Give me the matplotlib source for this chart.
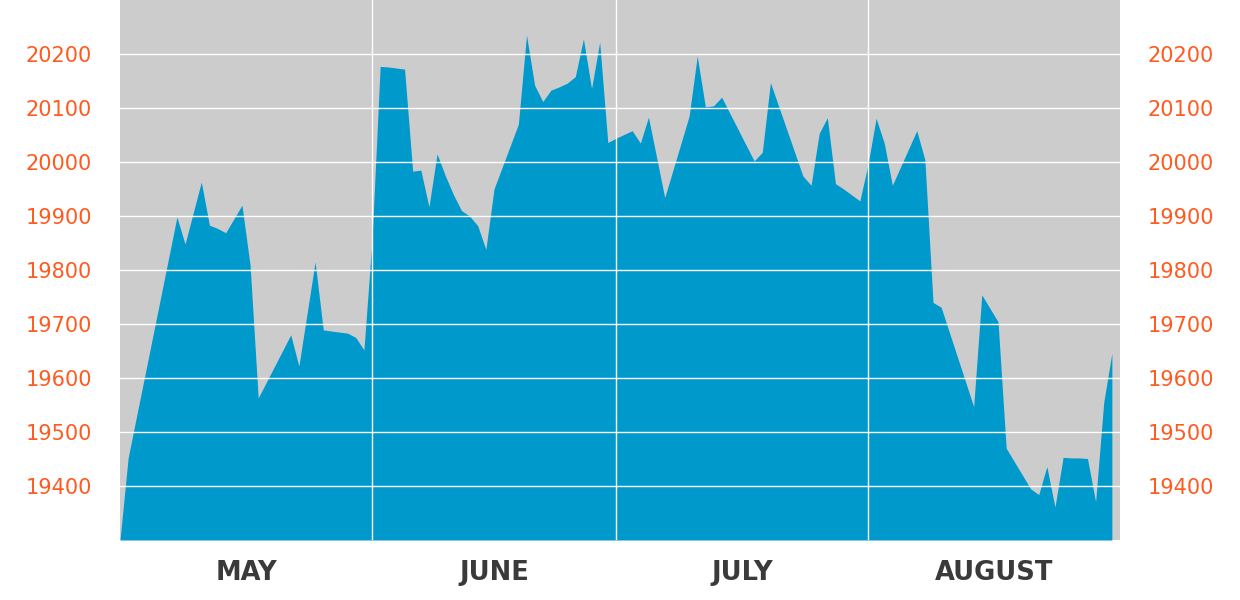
import numpy as np
import pandas as pd
import matplotlib
matplotlib.use("Agg")
import matplotlib.pyplot as plt
import matplotlib.dates as mdates
from matplotlib.transforms import blended_transform_factory

# giorni (vertici della curva) e valori
days = ["05-01", "05-02", "05-08", "05-09", "05-11", "05-12", "05-13", "05-14",
        "05-16", "05-17", "05-18", "05-22", "05-23", "05-25", "05-26", "05-29",
        "05-30", "05-31", "06-01", "06-02", "06-03", "06-04", "06-05", "06-06",
        "06-07", "06-08", "06-09", "06-10", "06-11", "06-12", "06-13", "06-14",
        "06-15", "06-16", "06-19", "06-20", "06-21", "06-22", "06-23", "06-24",
        "06-25", "06-26", "06-27", "06-28", "06-29", "06-30", "07-01", "07-02",
        "07-03", "07-04", "07-05", "07-07", "07-10", "07-11", "07-12", "07-13",
        "07-14", "07-18", "07-19", "07-20", "07-24", "07-25", "07-26", "07-27",
        "07-28", "07-29", "07-31", "08-01", "08-02", "08-03", "08-04", "08-07",
        "08-08", "08-09", "08-10", "08-14", "08-15", "08-17", "08-18", "08-21",
        "08-22", "08-23", "08-24", "08-25", "08-26", "08-27", "08-28", "08-29",
        "08-30", "08-31"]
values = [19300, 19452, 19898, 19848, 19963, 19883, 19877, 19869,
          19920, 19809, 19563, 19680, 19622, 19815, 19689, 19683,
          19675, 19652, 19855, 20177, 20176, 20174, 20172, 19983,
          19985, 19917, 20015, 19975, 19940, 19910, 19900, 19882,
          19838, 19950, 20070, 20235, 20142, 20112, 20133, 20139,
          20146, 20158, 20228, 20136, 20222, 20036, 20044, 20051,
          20058, 20035, 20083, 19934, 20085, 20196, 20102, 20104,
          20120, 20002, 20018, 20147, 19974, 19957, 20053, 20082,
          19960, 19950, 19928, 19995, 20081, 20035, 19957, 20058,
          20004, 19740, 19731, 19547, 19754, 19704, 19470, 19395,
          19384, 19436, 19361, 19453, 19452, 19452, 19451, 19371,
          19555, 19646]
months = ["MAY", "JUNE", "JULY", "AUGUST"]
month_starts = ["05-01", "06-01", "07-01", "08-01", "09-01"]
yticks = [19400, 19500, 19600, 19700, 19800, 19900, 20000, 20100, 20200]

year = "2023-"
x = pd.to_datetime([year + d for d in days])
edges = pd.to_datetime([year + d for d in month_starts])

fig = plt.figure(figsize=(12.4, 6), dpi=100)
ax = fig.add_axes([120 / 1240, 60 / 600, 1000 / 1240, 540 / 600])
ax.set_facecolor("#cccccc")

ax.fill_between(x, values, 19300, color="#0099cc", linewidth=0, zorder=1)

ax.set_xlim(edges[0], edges[-1])
ax.set_ylim(19300, 20300)

# griglia bianca sopra l'area
for v in yticks:
    ax.axhline(v, color="white", linewidth=1.0, zorder=2)
for e in edges[1:-1]:
    ax.axvline(e, color="white", linewidth=1.0, zorder=2)

ax.set_yticks(yticks)
ax.set_yticklabels([str(v) for v in yticks])
ax.tick_params(axis="y", length=0, pad=20, labelsize=15, labelcolor="#ff5a1f",
               labelleft=True, labelright=True)
ax.set_xticks([])
for s in ax.spines.values():
    s.set_visible(False)

trans = blended_transform_factory(ax.transData, ax.transAxes)
for i, m in enumerate(months):
    mid = edges[i] + (edges[i + 1] - edges[i]) / 2
    ax.text(mdates.date2num(mid), -0.061, m, transform=trans, ha="center",
            va="center", fontsize=18.5, fontweight="bold", color="#3a3a3a")

fig.savefig("out.png", dpi=100)
